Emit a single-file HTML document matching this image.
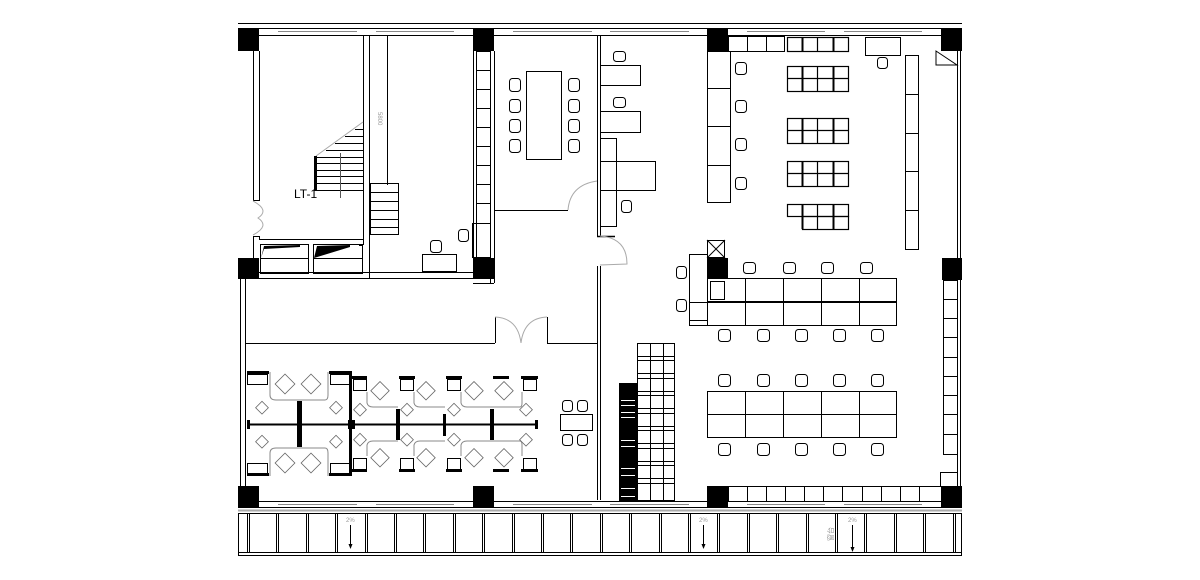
<!DOCTYPE html>
<html><head><meta charset="utf-8"><style>
html,body{margin:0;padding:0;background:#fff;}
svg{display:block}
</style></head><body>
<svg width="1200" height="580" viewBox="0 0 1200 580" xmlns="http://www.w3.org/2000/svg" fill="none" stroke="#000" stroke-width="1">
<!-- outer top -->
<line x1="238" y1="23.5" x2="962" y2="23.5"/>
<line x1="238" y1="28.5" x2="962" y2="28.5"/>
<line x1="238" y1="35.5" x2="962" y2="35.5"/>
<g stroke="#888"><line x1="278" y1="31.5" x2="357" y2="31.5"/><line x1="376" y1="31.5" x2="454" y2="31.5"/><line x1="513" y1="31.5" x2="592" y2="31.5"/><line x1="610" y1="31.5" x2="689" y2="31.5"/><line x1="747" y1="31.5" x2="825" y2="31.5"/><line x1="844" y1="31.5" x2="922" y2="31.5"/></g>
<!-- columns -->
<g fill="#000" stroke="none">
<rect x="238" y="29" width="21" height="22"/><rect x="473" y="29" width="21" height="22"/><rect x="707" y="29" width="21" height="22"/><rect x="941" y="29" width="21" height="22"/>
<rect x="238" y="258" width="21" height="21"/><rect x="473" y="258" width="21" height="21"/><rect x="708" y="258" width="20" height="21"/><rect x="942" y="258" width="20" height="22"/>
<rect x="238" y="486" width="21" height="21"/><rect x="473" y="486" width="21" height="21"/><rect x="707" y="486" width="21" height="21"/><rect x="941" y="486" width="21" height="21"/>
</g>
<!-- left walls -->
<line x1="253.5" y1="51" x2="253.5" y2="200"/><line x1="259.5" y1="51" x2="259.5" y2="200"/>
<line x1="253.5" y1="236" x2="253.5" y2="258"/><line x1="259.5" y1="236" x2="259.5" y2="240"/>
<line x1="253" y1="236.5" x2="260" y2="236.5"/><line x1="253" y1="200.5" x2="260" y2="200.5"/>
<path d="M253 201 Q270 210 258 218 Q270 226 253 235" stroke="#aaa"/>
<line x1="240.5" y1="279" x2="240.5" y2="486"/><line x1="245.5" y1="279" x2="245.5" y2="486"/>
<!-- stair room -->
<line x1="259" y1="239.5" x2="363" y2="239.5"/>
<line x1="363.5" y1="35" x2="363.5" y2="245"/><line x1="369.5" y1="35" x2="369.5" y2="278"/>
<line x1="359" y1="245.5" x2="363" y2="245.5"/>
<rect x="260.5" y="244.5" width="48" height="29"/><rect x="313.5" y="244.5" width="49" height="29"/>
<line x1="260" y1="258.5" x2="309" y2="258.5"/><line x1="313" y1="258.5" x2="363" y2="258.5"/>
<path d="M261 258 L264 246 L300 245 L300 247 L264 249 Z M314 258 L317 246 L350 245 L350 247 Z" fill="#000" stroke="none"/>
<line x1="259" y1="272.5" x2="473" y2="272.5"/><line x1="259" y1="278.5" x2="473" y2="278.5"/>
<!-- stairs 1 -->
<g stroke-width="1">
<line x1="316" y1="157.5" x2="363" y2="157.5"/><line x1="316" y1="163.5" x2="363" y2="163.5"/><line x1="316" y1="170.5" x2="363" y2="170.5"/><line x1="316" y1="176.5" x2="363" y2="176.5"/><line x1="316" y1="183.5" x2="363" y2="183.5"/><line x1="316" y1="190.5" x2="363" y2="190.5"/>
<line x1="326" y1="150.5" x2="363" y2="150.5"/><line x1="335" y1="143.5" x2="363" y2="143.5"/><line x1="345" y1="136.5" x2="363" y2="136.5"/><line x1="355" y1="129.5" x2="363" y2="129.5"/>
</g>
<path d="M316 156 L363 122" stroke="#aaa"/>
<rect x="314" y="156" width="3" height="35" fill="#000" stroke="none"/>
<line x1="340.5" y1="153" x2="340.5" y2="198" stroke="#555"/>
<text x="294" y="198" font-family="Liberation Sans, sans-serif" font-size="12" fill="#000" stroke="none">LT-1</text>
<!-- stair 2 / corridor -->
<line x1="387.5" y1="35" x2="387.5" y2="185"/>
<rect x="370.5" y="183.5" width="28" height="51"/>
<line x1="370" y1="192.5" x2="398" y2="192.5"/><line x1="370" y1="201.5" x2="398" y2="201.5"/><line x1="370" y1="210.5" x2="398" y2="210.5"/><line x1="370" y1="219.5" x2="398" y2="219.5"/><line x1="370" y1="227.5" x2="398" y2="227.5"/>
<text x="384" y="118" font-family="Liberation Sans, sans-serif" font-size="6" fill="#999" stroke="none" transform="rotate(90 384 112)">5800</text>
<rect x="422.5" y="254.5" width="34" height="17"/>
<rect x="430.5" y="240.5" width="11" height="12" rx="3"/><rect x="458.5" y="229.5" width="10" height="12" rx="3"/>
<!-- cabinets right of stair room -->
<line x1="473.5" y1="51" x2="473.5" y2="258"/><line x1="476.5" y1="51" x2="476.5" y2="258"/>
<rect x="476.5" y="51.5" width="14" height="172"/>
<g><line x1="476" y1="70.5" x2="490" y2="70.5"/><line x1="476" y1="89.5" x2="490" y2="89.5"/><line x1="476" y1="108.5" x2="490" y2="108.5"/><line x1="476" y1="127.5" x2="490" y2="127.5"/><line x1="476" y1="146.5" x2="490" y2="146.5"/><line x1="476" y1="165.5" x2="490" y2="165.5"/><line x1="476" y1="184.5" x2="490" y2="184.5"/><line x1="476" y1="203.5" x2="490" y2="203.5"/></g>
<rect x="472.5" y="223.5" width="18" height="34"/>
<line x1="490.5" y1="51" x2="490.5" y2="283"/><line x1="494.5" y1="51" x2="494.5" y2="283"/>
<line x1="473" y1="283.5" x2="494" y2="283.5"/>
<!-- meeting room -->
<line x1="494" y1="210.5" x2="568" y2="210.5"/>
<path d="M568 210 Q570 185 597 181" stroke="#aaa"/>
<line x1="597.5" y1="35" x2="597.5" y2="236"/><line x1="600.5" y1="35" x2="600.5" y2="236"/>
<line x1="597.5" y1="266" x2="597.5" y2="500"/><line x1="600.5" y1="266" x2="600.5" y2="500"/>
<line x1="597" y1="236.5" x2="615" y2="236.5" stroke-width="1.5"/>
<path d="M600 236 Q627 238 627 264 L600 265" stroke="#aaa"/>
<rect x="526.5" y="71.5" width="35" height="88"/>
<g>
<rect x="509.5" y="78.5" width="11" height="13" rx="3"/><rect x="509.5" y="99.5" width="11" height="13" rx="3"/><rect x="509.5" y="119.5" width="11" height="13" rx="3"/><rect x="509.5" y="139.5" width="11" height="13" rx="3"/>
<rect x="568.5" y="78.5" width="11" height="13" rx="3"/><rect x="568.5" y="99.5" width="11" height="13" rx="3"/><rect x="568.5" y="119.5" width="11" height="13" rx="3"/><rect x="568.5" y="139.5" width="11" height="13" rx="3"/>
</g>
<!-- right room left desks -->
<rect x="600.5" y="65.5" width="40" height="20"/><rect x="600.5" y="111.5" width="40" height="21"/>
<rect x="600.5" y="138.5" width="16" height="88"/><rect x="600.5" y="161.5" width="55" height="29"/>
<rect x="613.5" y="51.5" width="12" height="10" rx="3"/><rect x="613.5" y="97.5" width="12" height="10" rx="3"/><rect x="621.5" y="200.5" width="10" height="12" rx="3"/>
<!-- cabinets col -->
<rect x="707.5" y="51.5" width="23" height="151"/>
<line x1="707" y1="88.5" x2="730" y2="88.5"/><line x1="707" y1="126.5" x2="730" y2="126.5"/><line x1="707" y1="165.5" x2="730" y2="165.5"/>
<rect x="728.5" y="36.5" width="56" height="15"/><line x1="747.5" y1="36" x2="747.5" y2="51"/><line x1="766.5" y1="36" x2="766.5" y2="51"/>
<g><rect x="735.5" y="62.5" width="11" height="12" rx="3"/><rect x="735.5" y="100.5" width="11" height="12" rx="3"/><rect x="735.5" y="138.5" width="11" height="12" rx="3"/><rect x="735.5" y="177.5" width="11" height="12" rx="3"/></g>
<!-- black-edged desk groups -->
<g stroke-width="1.2">
<rect x="787.5" y="37.5" width="61" height="14"/><line x1="802.5" y1="37" x2="802.5" y2="51" stroke-width="2"/><line x1="817.5" y1="37" x2="817.5" y2="51"/><line x1="833.5" y1="37" x2="833.5" y2="51" stroke-width="2"/>
<rect x="787.5" y="66.5" width="61" height="25"/><line x1="787" y1="78.5" x2="848" y2="78.5"/><line x1="802.5" y1="66" x2="802.5" y2="91" stroke-width="2"/><line x1="817.5" y1="66" x2="817.5" y2="91"/><line x1="833.5" y1="66" x2="833.5" y2="91" stroke-width="2"/>
<rect x="787.5" y="118.5" width="61" height="25"/><line x1="787" y1="130.5" x2="848" y2="130.5"/><line x1="802.5" y1="118" x2="802.5" y2="143" stroke-width="2"/><line x1="817.5" y1="118" x2="817.5" y2="143"/><line x1="833.5" y1="118" x2="833.5" y2="143" stroke-width="2"/>
<rect x="787.5" y="161.5" width="61" height="25"/><line x1="787" y1="173.5" x2="848" y2="173.5"/><line x1="802.5" y1="161" x2="802.5" y2="186" stroke-width="2"/><line x1="817.5" y1="161" x2="817.5" y2="186"/><line x1="833.5" y1="161" x2="833.5" y2="186" stroke-width="2"/>
<rect x="787.5" y="204.5" width="61" height="12"/><rect x="802.5" y="216.5" width="46" height="13"/><line x1="802.5" y1="204" x2="802.5" y2="229" stroke-width="2"/><line x1="817.5" y1="204" x2="817.5" y2="229"/><line x1="833.5" y1="204" x2="833.5" y2="229" stroke-width="2"/>
</g>
<rect x="865.5" y="37.5" width="35" height="18"/><rect x="877.5" y="57.5" width="10" height="11" rx="3"/>
<rect x="905.5" y="55.5" width="13" height="194"/>
<line x1="905" y1="94.5" x2="918" y2="94.5"/><line x1="905" y1="133.5" x2="918" y2="133.5"/><line x1="905" y1="171.5" x2="918" y2="171.5"/><line x1="905" y1="210.5" x2="918" y2="210.5"/>
<path d="M936 51 L936 65 L957 65 Z"/>
<!-- right outer walls -->
<line x1="957.5" y1="51" x2="957.5" y2="258"/><line x1="960.5" y1="51" x2="960.5" y2="258"/>
<line x1="957.5" y1="280" x2="957.5" y2="486"/><line x1="960.5" y1="280" x2="960.5" y2="486"/>
<!-- mid-right block -->
<rect x="707.5" y="240.5" width="17" height="17"/><line x1="707" y1="240" x2="725" y2="258"/><line x1="725" y1="240" x2="707" y2="258"/>
<rect x="689.5" y="254.5" width="18" height="66"/>
<rect x="676.5" y="266.5" width="10" height="12" rx="3"/><rect x="676.5" y="299.5" width="10" height="12" rx="3"/>
<rect x="707.5" y="278.5" width="189" height="23"/><line x1="745.5" y1="278" x2="745.5" y2="301"/><line x1="783.5" y1="278" x2="783.5" y2="301"/><line x1="821.5" y1="278" x2="821.5" y2="301"/><line x1="859.5" y1="278" x2="859.5" y2="301"/>
<rect x="710.5" y="281.5" width="14" height="18"/>
<rect x="689.5" y="302.5" width="207" height="23"/><line x1="707.5" y1="302" x2="707.5" y2="325"/><line x1="745.5" y1="302" x2="745.5" y2="325"/><line x1="783.5" y1="302" x2="783.5" y2="325"/><line x1="821.5" y1="302" x2="821.5" y2="325"/><line x1="859.5" y1="302" x2="859.5" y2="325"/>
<g>
<rect x="743.5" y="262.5" width="12" height="11" rx="3"/><rect x="783.5" y="262.5" width="12" height="11" rx="3"/><rect x="821.5" y="262.5" width="12" height="11" rx="3"/><rect x="860.5" y="262.5" width="12" height="11" rx="3"/>
<rect x="718.5" y="329.5" width="12" height="12" rx="3"/><rect x="757.5" y="329.5" width="12" height="12" rx="3"/><rect x="795.5" y="329.5" width="12" height="12" rx="3"/><rect x="833.5" y="329.5" width="12" height="12" rx="3"/><rect x="871.5" y="329.5" width="12" height="12" rx="3"/>
<rect x="718.5" y="374.5" width="12" height="12" rx="3"/><rect x="757.5" y="374.5" width="12" height="12" rx="3"/><rect x="795.5" y="374.5" width="12" height="12" rx="3"/><rect x="833.5" y="374.5" width="12" height="12" rx="3"/><rect x="871.5" y="374.5" width="12" height="12" rx="3"/>
<rect x="718.5" y="443.5" width="12" height="12" rx="3"/><rect x="757.5" y="443.5" width="12" height="12" rx="3"/><rect x="795.5" y="443.5" width="12" height="12" rx="3"/><rect x="833.5" y="443.5" width="12" height="12" rx="3"/><rect x="871.5" y="443.5" width="12" height="12" rx="3"/>
</g>
<rect x="707.5" y="391.5" width="189" height="46"/><line x1="707" y1="414.5" x2="897" y2="414.5"/>
<line x1="745.5" y1="391" x2="745.5" y2="437"/><line x1="783.5" y1="391" x2="783.5" y2="437"/><line x1="821.5" y1="391" x2="821.5" y2="437"/><line x1="859.5" y1="391" x2="859.5" y2="437"/>
<!-- right wall cabinets -->
<rect x="943.5" y="280.5" width="14" height="174"/>
<line x1="943" y1="299.5" x2="957" y2="299.5"/><line x1="943" y1="318.5" x2="957" y2="318.5"/><line x1="943" y1="337.5" x2="957" y2="337.5"/><line x1="943" y1="357.5" x2="957" y2="357.5"/><line x1="943" y1="376.5" x2="957" y2="376.5"/><line x1="943" y1="395.5" x2="957" y2="395.5"/><line x1="943" y1="414.5" x2="957" y2="414.5"/><line x1="943" y1="434.5" x2="957" y2="434.5"/>
<rect x="940.5" y="472.5" width="17" height="14"/>
<!-- bottom cabinets -->
<rect x="728.5" y="486.5" width="213" height="15"/>
<line x1="747.5" y1="486" x2="747.5" y2="501"/><line x1="766.5" y1="486" x2="766.5" y2="501"/><line x1="785.5" y1="486" x2="785.5" y2="501"/><line x1="804.5" y1="486" x2="804.5" y2="501"/><line x1="823.5" y1="486" x2="823.5" y2="501"/><line x1="842.5" y1="486" x2="842.5" y2="501"/><line x1="862.5" y1="486" x2="862.5" y2="501"/><line x1="881.5" y1="486" x2="881.5" y2="501"/><line x1="900.5" y1="486" x2="900.5" y2="501"/><line x1="919.5" y1="486" x2="919.5" y2="501"/>
<!-- shelves grid -->
<g>
<rect x="637.5" y="343.5" width="37" height="157"/>
<line x1="650.5" y1="343" x2="650.5" y2="500"/><line x1="663.5" y1="343" x2="663.5" y2="500"/>
<line x1="637" y1="356.5" x2="674" y2="356.5"/><line x1="637" y1="360.5" x2="674" y2="360.5"/>
<line x1="637" y1="373.5" x2="674" y2="373.5"/><line x1="637" y1="378.5" x2="674" y2="378.5"/>
<line x1="637" y1="391.5" x2="674" y2="391.5"/><line x1="637" y1="395.5" x2="674" y2="395.5"/>
<line x1="637" y1="408.5" x2="674" y2="408.5"/><line x1="637" y1="413.5" x2="674" y2="413.5"/>
<line x1="637" y1="426.5" x2="674" y2="426.5"/><line x1="637" y1="430.5" x2="674" y2="430.5"/>
<line x1="637" y1="443.5" x2="674" y2="443.5"/><line x1="637" y1="448.5" x2="674" y2="448.5"/>
<line x1="637" y1="461.5" x2="674" y2="461.5"/><line x1="637" y1="465.5" x2="674" y2="465.5"/>
<line x1="637" y1="478.5" x2="674" y2="478.5"/><line x1="637" y1="483.5" x2="674" y2="483.5"/>
</g>
<rect x="619" y="383" width="18" height="118" fill="#000" stroke="none"/>
<g stroke="#fff" stroke-width="1"><line x1="621" y1="400.5" x2="635" y2="400.5"/><line x1="621" y1="405.5" x2="635" y2="405.5"/><line x1="621" y1="412.5" x2="635" y2="412.5"/><line x1="621" y1="417.5" x2="635" y2="417.5"/><line x1="621" y1="440.5" x2="635" y2="440.5"/><line x1="621" y1="446.5" x2="635" y2="446.5"/><line x1="621" y1="468.5" x2="635" y2="468.5"/><line x1="621" y1="475.5" x2="635" y2="475.5"/><line x1="621" y1="488.5" x2="635" y2="488.5"/><line x1="621" y1="496.5" x2="635" y2="496.5"/></g>
<!-- bottom-left corridor walls -->
<line x1="245" y1="343.5" x2="495" y2="343.5"/><line x1="547" y1="343.5" x2="597" y2="343.5"/>
<line x1="495.5" y1="317" x2="495.5" y2="343"/><line x1="547.5" y1="317" x2="547.5" y2="343"/>
<path d="M495 317 Q518 318 521 343 M547 317 Q524 318 521 343" stroke="#aaa"/>
<!-- workstations -->
<line x1="247" y1="424.5" x2="538" y2="424.5" stroke-width="2"/>
<g fill="#000" stroke="none">
<rect x="297" y="401" width="5" height="46"/><rect x="396" y="409" width="4" height="31"/><rect x="443" y="414" width="3" height="22"/><rect x="490" y="409" width="4" height="31"/>
<rect x="247" y="420" width="3" height="9"/><rect x="348" y="420" width="7" height="9"/><rect x="535" y="420" width="3" height="9"/>
<rect x="247" y="371" width="22" height="3"/><rect x="329" y="371" width="22" height="3"/><rect x="247" y="473" width="22" height="3"/><rect x="329" y="473" width="22" height="3"/>
<rect x="351" y="376" width="16" height="3"/><rect x="399" y="376" width="16" height="3"/><rect x="446" y="376" width="16" height="3"/><rect x="493" y="376" width="16" height="3"/><rect x="521" y="376" width="17" height="3"/>
<rect x="351" y="469" width="16" height="3"/><rect x="399" y="469" width="16" height="3"/><rect x="446" y="469" width="16" height="3"/><rect x="493" y="469" width="16" height="3"/><rect x="521" y="469" width="17" height="3"/>
<rect x="349" y="371" width="3" height="105"/>
</g>
<g>
<rect x="247.5" y="374.5" width="20" height="10"/><rect x="330.5" y="374.5" width="19" height="10"/><rect x="247.5" y="463.5" width="20" height="10"/><rect x="330.5" y="463.5" width="19" height="10"/>
<rect x="353.5" y="379.5" width="13" height="11"/><rect x="400.5" y="379.5" width="13" height="11"/><rect x="447.5" y="379.5" width="13" height="11"/><rect x="523.5" y="379.5" width="13" height="11"/>
<rect x="353.5" y="458.5" width="13" height="11"/><rect x="400.5" y="458.5" width="13" height="11"/><rect x="447.5" y="458.5" width="13" height="11"/><rect x="523.5" y="458.5" width="13" height="11"/>
</g>
<g stroke="#888">
<path d="M270 372 L270 395 Q270 400 276 400 L325 400 Q328 400 328 395 L328 372"/>
<path d="M270 476 L270 453 Q270 448 276 448 L325 448 Q328 448 328 453 L328 476"/>
<path d="M367 392 L367 403 Q368 407 373 407 L398 407"/><path d="M367 456 L367 445 Q368 441 373 441 L398 441"/>
<path d="M414 392 L414 403 Q415 407 420 407 L445 407"/><path d="M414 456 L414 445 Q415 441 420 441 L445 441"/>
<path d="M461 392 L461 403 Q462 407 467 407 L520 407 Q522 407 522 403 L522 392"/><path d="M461 456 L461 445 Q462 441 467 441 L520 441 Q522 441 522 445 L522 456"/>
</g>
<g stroke="#666" stroke-width="0.8">
<rect x="278" y="377" width="14" height="14" transform="rotate(45 285 384)"/><rect x="304" y="377" width="14" height="14" transform="rotate(45 311 384)"/>
<rect x="278" y="456" width="14" height="14" transform="rotate(45 285 463)"/><rect x="304" y="456" width="14" height="14" transform="rotate(45 311 463)"/>
<rect x="258" y="403" width="9" height="9" transform="rotate(45 262 407)"/><rect x="258" y="437" width="9" height="9" transform="rotate(45 262 441)"/>
<rect x="332" y="403" width="9" height="9" transform="rotate(45 336 407)"/><rect x="332" y="437" width="9" height="9" transform="rotate(45 336 441)"/>
<rect x="374" y="384" width="13" height="13" transform="rotate(45 380 390)"/><rect x="374" y="451" width="13" height="13" transform="rotate(45 380 457)"/>
<rect x="420" y="384" width="13" height="13" transform="rotate(45 426 390)"/><rect x="420" y="451" width="13" height="13" transform="rotate(45 426 457)"/>
<rect x="468" y="384" width="13" height="13" transform="rotate(45 474 390)"/><rect x="468" y="451" width="13" height="13" transform="rotate(45 474 457)"/>
<rect x="498" y="384" width="13" height="13" transform="rotate(45 504 390)"/><rect x="498" y="451" width="13" height="13" transform="rotate(45 504 457)"/>
<rect x="356" y="405" width="9" height="9" transform="rotate(45 360 409)"/><rect x="356" y="435" width="9" height="9" transform="rotate(45 360 439)"/>
<rect x="403" y="405" width="9" height="9" transform="rotate(45 407 409)"/><rect x="403" y="435" width="9" height="9" transform="rotate(45 407 439)"/>
<rect x="450" y="405" width="9" height="9" transform="rotate(45 454 409)"/><rect x="450" y="435" width="9" height="9" transform="rotate(45 454 439)"/>
<rect x="522" y="405" width="9" height="9" transform="rotate(45 526 409)"/><rect x="522" y="435" width="9" height="9" transform="rotate(45 526 439)"/>
</g>
<!-- small table -->
<rect x="560.5" y="414.5" width="32" height="16"/>
<rect x="562.5" y="400.5" width="10" height="11" rx="3"/><rect x="577.5" y="400.5" width="10" height="11" rx="3"/>
<rect x="562.5" y="434.5" width="10" height="11" rx="3"/><rect x="577.5" y="434.5" width="10" height="11" rx="3"/>
<!-- bottom window band -->
<line x1="238" y1="501.5" x2="962" y2="501.5"/><line x1="238" y1="507.5" x2="962" y2="507.5"/>
<g stroke="#888"><line x1="278" y1="504.5" x2="357" y2="504.5"/><line x1="376" y1="504.5" x2="454" y2="504.5"/><line x1="513" y1="504.5" x2="592" y2="504.5"/><line x1="610" y1="504.5" x2="689" y2="504.5"/><line x1="747" y1="504.5" x2="825" y2="504.5"/><line x1="844" y1="504.5" x2="922" y2="504.5"/></g>
<line x1="238" y1="510.5" x2="962" y2="510.5" stroke="#aaa" stroke-width="2"/>
<line x1="238" y1="513.5" x2="962" y2="513.5"/>
<line x1="238" y1="552.5" x2="962" y2="552.5"/><line x1="238" y1="555.5" x2="962" y2="555.5"/>
<line x1="238.5" y1="513" x2="238.5" y2="556"/><line x1="961.5" y1="513" x2="961.5" y2="556"/>
<g>
<line x1="247.5" y1="514" x2="247.5" y2="552"/><line x1="249.5" y1="514" x2="249.5" y2="552"/>
<line x1="276.5" y1="514" x2="276.5" y2="552"/><line x1="278.5" y1="514" x2="278.5" y2="552"/>
<line x1="306.5" y1="514" x2="306.5" y2="552"/><line x1="308.5" y1="514" x2="308.5" y2="552"/>
<line x1="335.5" y1="514" x2="335.5" y2="552"/><line x1="337.5" y1="514" x2="337.5" y2="552"/>
<line x1="365.5" y1="514" x2="365.5" y2="552"/><line x1="367.5" y1="514" x2="367.5" y2="552"/>
<line x1="394.5" y1="514" x2="394.5" y2="552"/><line x1="396.5" y1="514" x2="396.5" y2="552"/>
<line x1="423.5" y1="514" x2="423.5" y2="552"/><line x1="425.5" y1="514" x2="425.5" y2="552"/>
<line x1="453.5" y1="514" x2="453.5" y2="552"/><line x1="455.5" y1="514" x2="455.5" y2="552"/>
<line x1="482.5" y1="514" x2="482.5" y2="552"/><line x1="484.5" y1="514" x2="484.5" y2="552"/>
<line x1="512.5" y1="514" x2="512.5" y2="552"/><line x1="514.5" y1="514" x2="514.5" y2="552"/>
<line x1="541.5" y1="514" x2="541.5" y2="552"/><line x1="543.5" y1="514" x2="543.5" y2="552"/>
<line x1="570.5" y1="514" x2="570.5" y2="552"/><line x1="572.5" y1="514" x2="572.5" y2="552"/>
<line x1="600.5" y1="514" x2="600.5" y2="552"/><line x1="602.5" y1="514" x2="602.5" y2="552"/>
<line x1="629.5" y1="514" x2="629.5" y2="552"/><line x1="631.5" y1="514" x2="631.5" y2="552"/>
<line x1="659.5" y1="514" x2="659.5" y2="552"/><line x1="661.5" y1="514" x2="661.5" y2="552"/>
<line x1="688.5" y1="514" x2="688.5" y2="552"/><line x1="690.5" y1="514" x2="690.5" y2="552"/>
<line x1="717.5" y1="514" x2="717.5" y2="552"/><line x1="719.5" y1="514" x2="719.5" y2="552"/>
<line x1="747.5" y1="514" x2="747.5" y2="552"/><line x1="749.5" y1="514" x2="749.5" y2="552"/>
<line x1="776.5" y1="514" x2="776.5" y2="552"/><line x1="778.5" y1="514" x2="778.5" y2="552"/>
<line x1="806.5" y1="514" x2="806.5" y2="552"/><line x1="808.5" y1="514" x2="808.5" y2="552"/>
<line x1="835.5" y1="514" x2="835.5" y2="552"/><line x1="837.5" y1="514" x2="837.5" y2="552"/>
<line x1="864.5" y1="514" x2="864.5" y2="552"/><line x1="866.5" y1="514" x2="866.5" y2="552"/>
<line x1="894.5" y1="514" x2="894.5" y2="552"/><line x1="896.5" y1="514" x2="896.5" y2="552"/>
<line x1="923.5" y1="514" x2="923.5" y2="552"/><line x1="925.5" y1="514" x2="925.5" y2="552"/>
<line x1="953.5" y1="514" x2="953.5" y2="552"/><line x1="955.5" y1="514" x2="955.5" y2="552"/>
</g>
<g stroke="#000"><line x1="350.5" y1="525" x2="350.5" y2="545"/><line x1="703.5" y1="525" x2="703.5" y2="545"/><line x1="852.5" y1="525" x2="852.5" y2="548"/></g>
<g fill="#000" stroke="none"><path d="M348.5 544 L352.5 544 L350.5 549 Z"/><path d="M701.5 544 L705.5 544 L703.5 549 Z"/><path d="M850.5 547 L854.5 547 L852.5 552 Z"/></g>
<g font-family="Liberation Sans, sans-serif" font-size="6" fill="#999" stroke="none">
<text x="346" y="522">2%</text><text x="699" y="522">2%</text><text x="848" y="522">2%</text>
<text x="826" y="542" font-family="Liberation Sans, Noto Sans CJK SC, sans-serif" font-size="7" transform="rotate(-90 829 538)">窗台</text>
</g>
</svg>
</body></html>
